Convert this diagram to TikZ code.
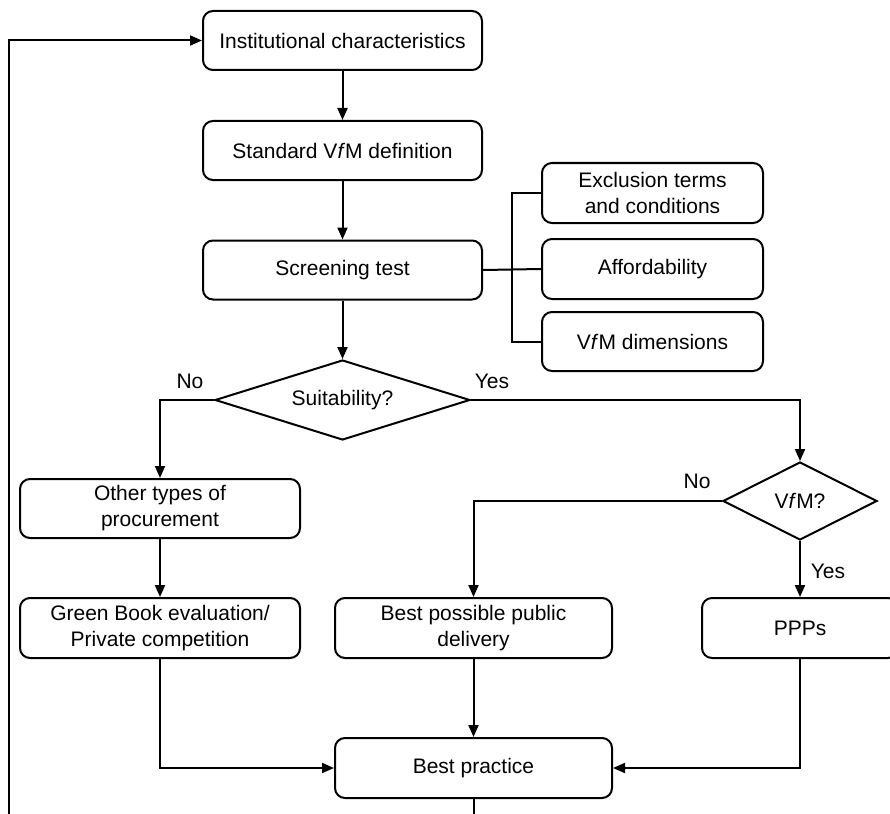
\documentclass[tikz,border=0pt]{standalone}
\usepackage{fontspec}
\setmainfont{Liberation Sans}
\usetikzlibrary{shapes.geometric,arrows.meta}
\begin{document}
\begin{tikzpicture}[x=1pt,y=-1pt,
  box/.style={draw,line width=2pt,rounded corners=10pt,align=center,inner sep=0pt,
    font=\fontsize{21}{26}\selectfont},
  dia/.style={draw,line width=2pt,diamond,inner sep=0pt,font=\fontsize{21}{26}\selectfont},
  lbl/.style={font=\fontsize{21}{26}\selectfont,inner sep=0pt},
  link/.style={line width=2pt},
  arr/.style={line width=2pt,-{Triangle[length=12pt,width=10pt]}}]
\useasboundingbox (0,0) rectangle (890,813);
\clip (0,0) rectangle (890,813);
\node[box,minimum width=279pt,minimum height=59pt] (inst) at (342.5,40.5) {Institutional characteristics};
\node[box,minimum width=279pt,minimum height=59pt] (std) at (342.5,150.5) {Standard V\textit{f}M definition};
\node[box,minimum width=279pt,minimum height=59pt] (screen) at (342.5,270) {Screening test};
\node[box,minimum width=221pt,minimum height=60pt] (excl) at (652.5,193) {Exclusion terms\\and conditions};
\node[box,minimum width=221pt,minimum height=60pt] (afford) at (652.5,269) {Affordability};
\node[box,minimum width=221pt,minimum height=59pt] (dims) at (652.5,341.5) {V\textit{f}M dimensions};
\node[dia,aspect=3.19,minimum width=255pt,minimum height=80pt] (suit) at (342.5,400) {Suitability?};
\node[dia,aspect=1.97,minimum width=154pt,minimum height=78pt] (vfm) at (800,501) {V\textit{f}M?};
\node[box,minimum width=280pt,minimum height=59pt] (other) at (160,508.5) {Other types of\\procurement};
\node[box,minimum width=280pt,minimum height=60pt] (green) at (160,628) {Green Book evaluation/\\Private competition};
\node[box,minimum width=277pt,minimum height=60pt] (bpd) at (473.5,628) {Best possible public\\delivery};
\node[box,minimum width=196pt,minimum height=60pt] (ppp) at (800,628) {PPPs};
\node[box,minimum width=277pt,minimum height=60pt] (best) at (473.5,768) {Best practice};
\coordinate (loop) at (9,835);
\node[lbl] (no1) at (190,381) {No};
\node[lbl] (yes1) at (492,381) {Yes};
\node[lbl] (no2) at (697,481) {No};
\node[lbl] (yes2) at (828,571) {Yes};
\draw[arr] (inst.south) -- (std.north);
\draw[arr] (std.south) -- (screen.north);
\draw[link] (screen.east) -- (afford.west);
\draw[link] (excl.west) -- ++(-29,0) |- (dims.west);
\draw[arr] (screen.south) -- (suit.north);
\draw[arr] (suit.west) -| (other.north);
\draw[arr] (suit.east) -| (vfm.north);
\draw[arr] (vfm.west) -| (bpd.north);
\draw[arr] (vfm.south) -- (ppp.north);
\draw[arr] (other.south) -- (green.north);
\draw[arr] (green.south) |- (best.west);
\draw[arr] (ppp.south) |- (best.east);
\draw[arr] (bpd.south) -- (best.north);
\draw[arr] (best.south) |- (loop) |- (inst.west);
\end{tikzpicture}
\end{document}
